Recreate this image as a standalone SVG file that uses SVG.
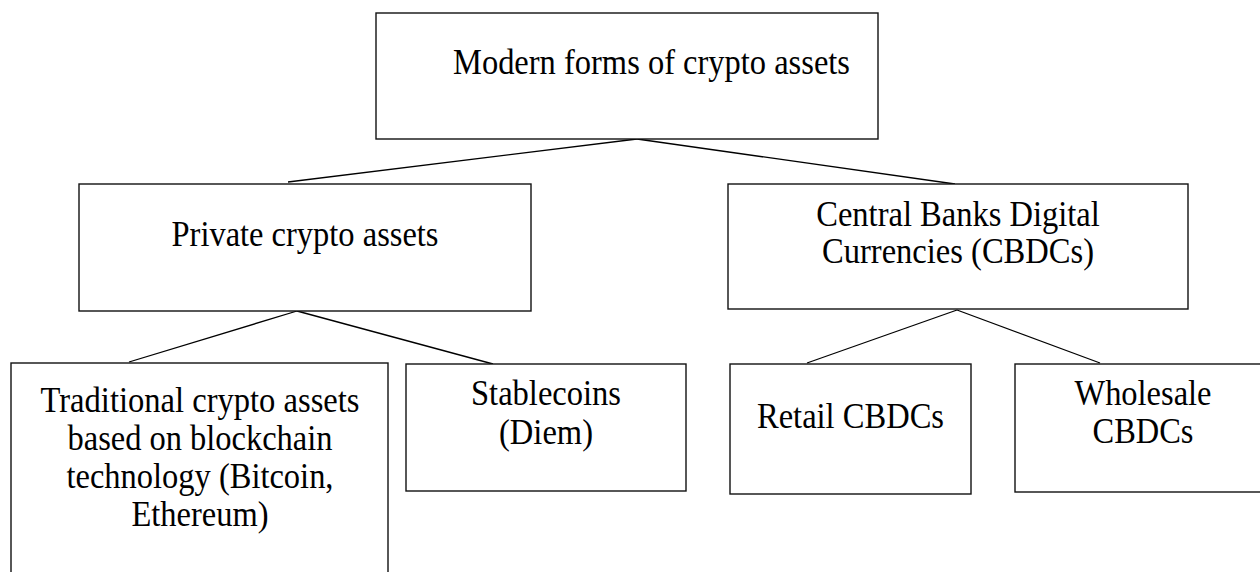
<svg xmlns="http://www.w3.org/2000/svg" width="1260" height="572" viewBox="0 0 1260 572">
<style>
.box{fill:#fff;stroke:#111;stroke-width:1.4}
.lbl{font-family:"Liberation Serif","Times New Roman",serif;font-size:35px;fill:#000;text-anchor:middle}
.conn line{stroke:#000;stroke-width:1.3}
</style>
<rect width="1260" height="572" fill="#fff"/>
<g id="connectors" class="conn">
<line x1="637" y1="139" x2="288" y2="182"/>
<line x1="637" y1="139" x2="955" y2="184"/>
<line x1="297" y1="311" x2="129" y2="362"/>
<line x1="297" y1="311" x2="493" y2="364"/>
<line x1="957" y1="310" x2="807" y2="363"/>
<line x1="957" y1="310" x2="1100" y2="363"/>
</g>
<g id="root">
<rect class="box" x="376" y="13" width="502" height="126"/>
<text class="lbl" x="651.5" y="74" textLength="397" lengthAdjust="spacingAndGlyphs">Modern forms of crypto assets</text>
</g>
<g id="private">
<rect class="box" x="79" y="184" width="452" height="127"/>
<text class="lbl" x="305" y="246" textLength="267" lengthAdjust="spacingAndGlyphs">Private crypto assets</text>
</g>
<g id="cbdc">
<rect class="box" x="728" y="184" width="460" height="125"/>
<text class="lbl" x="958" y="226" textLength="283.5" lengthAdjust="spacingAndGlyphs">Central Banks Digital</text>
<text class="lbl" x="958" y="263" textLength="272" lengthAdjust="spacingAndGlyphs">Currencies (CBDCs)</text>
</g>
<g id="traditional">
<rect class="box" x="11" y="363" width="377" height="240"/>
<text class="lbl" x="200" y="412" textLength="319" lengthAdjust="spacingAndGlyphs">Traditional crypto assets</text>
<text class="lbl" x="200" y="450" textLength="265" lengthAdjust="spacingAndGlyphs">based on blockchain</text>
<text class="lbl" x="200" y="488" textLength="267" lengthAdjust="spacingAndGlyphs">technology (Bitcoin,</text>
<text class="lbl" x="200" y="526" textLength="137" lengthAdjust="spacingAndGlyphs">Ethereum)</text>
</g>
<g id="stablecoins">
<rect class="box" x="406" y="364" width="280" height="127"/>
<text class="lbl" x="546" y="405" textLength="150" lengthAdjust="spacingAndGlyphs">Stablecoins</text>
<text class="lbl" x="546" y="444" textLength="94" lengthAdjust="spacingAndGlyphs">(Diem)</text>
</g>
<g id="retail">
<rect class="box" x="730" y="364" width="241" height="130"/>
<text class="lbl" x="850.5" y="428" textLength="187" lengthAdjust="spacingAndGlyphs">Retail CBDCs</text>
</g>
<g id="wholesale">
<rect class="box" x="1015" y="364" width="257" height="128"/>
<text class="lbl" x="1143" y="405" textLength="137" lengthAdjust="spacingAndGlyphs">Wholesale</text>
<text class="lbl" x="1143" y="443" textLength="101" lengthAdjust="spacingAndGlyphs">CBDCs</text>
</g>
</svg>
